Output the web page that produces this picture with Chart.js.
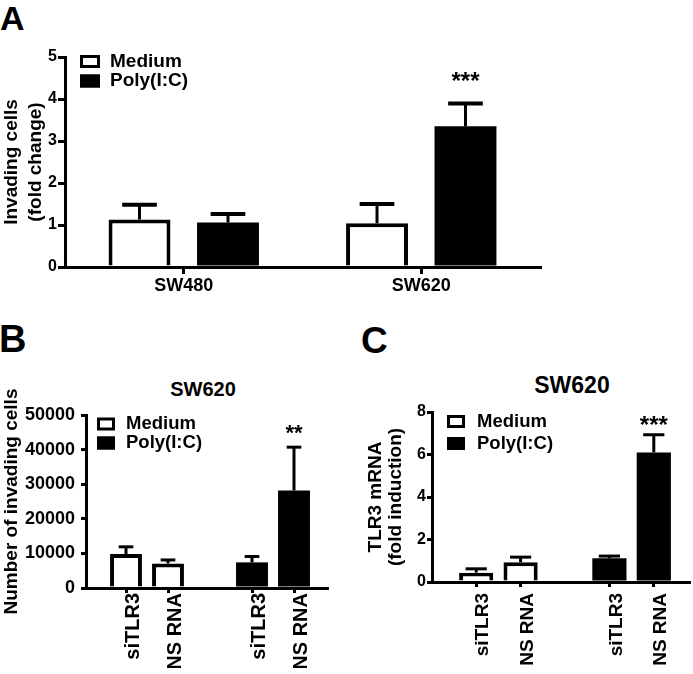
<!DOCTYPE html>
<html><head><meta charset="utf-8">
<script src="https://cdn.jsdelivr.net/npm/chart.js@4.4.1/dist/chart.umd.min.js"></script>
<style>
html,body{margin:0;padding:0;background:#fff;}
body{width:693px;height:674px;position:relative;overflow:hidden;font-family:'Liberation Sans',Arial,Helvetica,sans-serif;font-weight:bold;color:#000;}
canvas{position:absolute;}
.t{position:absolute;line-height:1;white-space:nowrap;}
</style></head><body>
<div class="t" style="left:0;top:1px;font-size:34px">A</div>
<div class="t" style="left:-1px;top:320px;font-size:38px">B</div>
<div class="t" style="left:361px;top:322px;font-size:37px">C</div>
<div class="t" style="left:103px;width:200px;text-align:center;top:379px;font-size:20px">SW620</div>
<div class="t" style="left:472px;width:200px;text-align:center;top:374px;font-size:23px">SW620</div>
<canvas id="cA" width="693" height="320" style="left:0;top:0"></canvas>
<canvas id="cB" width="346" height="314" style="left:0;top:360px"></canvas>
<canvas id="cC" width="347" height="314" style="left:346px;top:360px"></canvas>
<script>
// ---------------- data ----------------
const legendLabels = ['Medium', 'Poly(I:C)'];

// Panel A
const groupsA = ['SW480', 'SW620'];
const mediumA = [1.13, 1.04];
const mediumErrA = [0.35, 0.46];
const polyA = [1.06, 3.35];
const polyErrA = [0.20, 0.54];
const starsA = ['', '***'];

// Panel B
const treatments = ['siTLR3', 'NS RNA'];
const mediumB = [9800, 7100];
const mediumErrB = [2100, 1000];
const polyB = [7400, 28200];
const polyErrB = [1700, 12500];
const starsB = ['', '**'];

// Panel C
const mediumC = [0.44, 0.93];
const mediumErrC = [0.18, 0.24];
const polyC = [1.12, 6.1];
const polyErrC = [0.10, 0.83];
const starsC = ['', '***'];

// ---------------- helpers ----------------
const FF = "'Liberation Sans', Arial, Helvetica, sans-serif";

const errorBars = {
  id: 'errorBars',
  afterDatasetsDraw(chart, args, o) {
    const ctx = chart.ctx, y = chart.scales.y;
    ctx.save();
    ctx.strokeStyle = '#000'; ctx.fillStyle = '#000'; ctx.lineCap = 'butt';
    chart.data.datasets.forEach((ds, di) => {
      const meta = chart.getDatasetMeta(di);
      meta.data.forEach((bar, i) => {
        const v = ds.data[i], e = ds.errors ? ds.errors[i] : null;
        if (v == null || e == null) return;
        const top = y.getPixelForValue(v + e);
        const base = y.getPixelForValue(v);
        const w = bar.width * o.cap;
        ctx.lineWidth = o.stem;
        ctx.beginPath(); ctx.moveTo(bar.x, base); ctx.lineTo(bar.x, top); ctx.stroke();
        ctx.lineWidth = o.capWidth;
        ctx.beginPath(); ctx.moveTo(bar.x - w / 2, top); ctx.lineTo(bar.x + w / 2, top); ctx.stroke();
        const s = ds.stars ? ds.stars[i] : '';
        if (s) {
          ctx.font = 'bold ' + o.starSize + 'px ' + FF;
          ctx.textAlign = 'center'; ctx.textBaseline = 'middle';
          ctx.fillText(s, bar.x, top - o.starGap + 0.23 * o.starSize);
        }
      });
    });
    ctx.restore();
  }
};

const boxLegend = {
  id: 'boxLegend',
  afterDraw(chart, args, o) {
    const ctx = chart.ctx, a = chart.chartArea;
    ctx.save();
    ctx.font = 'bold ' + o.size + 'px ' + FF;
    ctx.textBaseline = 'middle'; ctx.textAlign = 'left';
    chart.data.datasets.forEach((ds, i) => {
      const cy = a.top + o.dy + i * o.gap;
      const x = a.left + o.dx;
      ctx.fillStyle = ds.backgroundColor;
      ctx.fillRect(x, cy - o.h / 2, o.w, o.h);
      ctx.lineWidth = o.lw; ctx.strokeStyle = ds.borderColor;
      ctx.strokeRect(x + o.lw / 2, cy - o.h / 2 + o.lw / 2, o.w - o.lw, o.h - o.lw);
      ctx.fillStyle = '#000';
      ctx.fillText(ds.label, a.left + o.tx, cy);
    });
    ctx.restore();
  }
};

// narrows the category domain inside the drawn x axis line
const xInset = {
  id: 'xInset',
  afterLayout(chart, args, o) {
    if (!o || (!o.left && !o.right)) return;
    const s = chart.scales.x;
    s._startPixel = s.left + o.left;
    s._endPixel = s.right - o.right;
    s._length = s._endPixel - s._startPixel;
  }
};

function build(id, o) {
  const tickColor = (c) => (c.tick && c.tick.label !== '' ? '#000' : 'rgba(0,0,0,0)');
  return new Chart(document.getElementById(id), {
    type: 'bar',
    data: {
      labels: o.labels,
      datasets: [
        { label: legendLabels[0], data: o.med, errors: o.medErr, stars: o.medStars,
          backgroundColor: '#ffffff', borderColor: '#000000', borderWidth: 4, borderSkipped: 'start',
          skipNull: true, categoryPercentage: o.cp, barPercentage: o.bp },
        { label: legendLabels[1], data: o.poly, errors: o.polyErr, stars: o.polyStars,
          backgroundColor: '#000000', borderColor: '#000000', borderWidth: 0,
          skipNull: true, categoryPercentage: o.cp, barPercentage: o.bp }
      ]
    },
    options: {
      responsive: false, animation: false, devicePixelRatio: 1, events: [],
      layout: { padding: o.pad, autoPadding: false },
      plugins: {
        legend: { display: false }, tooltip: { enabled: false },
        boxLegend: o.legend, errorBars: o.err, xInset: o.inset || {}
      },
      scales: {
        x: {
          grid: { display: true, drawOnChartArea: false, drawTicks: true, tickLength: o.xTick,
                  color: tickColor, lineWidth: 3, offset: false },
          border: { display: true, color: '#000', width: 3 },
          ticks: { color: '#000', autoSkip: false, padding: o.xPad, minRotation: o.rot, maxRotation: o.rot,
                   labelOffset: o.xShift || 0,
                   font: { family: FF, size: o.xSize, weight: 'bold' } },
          afterFit: (s) => { s.height = o.xh; }
        },
        y: {
          min: 0, max: o.ymax,
          grid: { display: true, drawOnChartArea: false, drawTicks: true, tickLength: o.yTick,
                  color: '#000', lineWidth: 3 },
          border: { display: true, color: '#000', width: 3 },
          ticks: { color: '#000', stepSize: o.step, padding: o.yPad,
                   font: { family: FF, size: o.ySize, weight: 'bold' },
                   callback: (v) => String(v) },
          title: { display: true, text: o.title, color: '#000', padding: { top: o.tPad, bottom: 0 },
                   font: { family: FF, size: o.tSize, weight: 'bold', lineHeight: o.tLH } },
          afterFit: (s) => { s.width = o.yw; }
        }
      }
    },
    plugins: [xInset, errorBars, boxLegend]
  });
}

// Panel A
build('cA', {
  labels: groupsA, med: mediumA, medErr: mediumErrA, medStars: null,
  poly: polyA, polyErr: polyErrA, polyStars: starsA,
  cp: 0.745, bp: 0.70,
  pad: { left: 0, top: 57, right: 153, bottom: 13 }, xh: 40, yw: 65,
  ymax: 5, step: 1, yTick: 7, yPad: 1, ySize: 16,
  xTick: 7, xPad: 1, xSize: 18, rot: 0,
  title: ['Invading cells', '(fold change)'], tSize: 19, tLH: 1.24, tPad: 0,
  legend: { dx: 15, dy: 4.5, gap: 19.5, w: 20, h: 13, lw: 3, tx: 45, size: 19 },
  err: { cap: 0.56, stem: 3, capWidth: 4, starSize: 24, starGap: 26.5 }
});

// Panel B
build('cB', {
  labels: [...treatments, '', ...treatments],
  med: [...mediumB, null, null, null], medErr: [...mediumErrB, null, null, null], medStars: null,
  poly: [null, null, null, ...polyB], polyErr: [null, null, null, ...polyErrB], polyStars: [null, null, null, ...starsB],
  cp: 1, bp: 0.76,
  pad: { left: 0, top: 55, right: 19, bottom: 6 }, xh: 80, yw: 86,
  ymax: 50000, step: 10000, yTick: 5, yPad: 6, ySize: 18,
  xTick: 5, xPad: 0, xSize: 20, rot: 90, xShift: 7,
  title: 'Number of invading cells', tSize: 19, tLH: 1.2, tPad: 0,
  legend: { dx: 11, dy: 9, gap: 19, w: 18, h: 13, lw: 3, tx: 40, size: 18.5 },
  err: { cap: 0.46, stem: 3, capWidth: 3, starSize: 22, starGap: 18.5 },
  inset: { left: 19, right: 12 }
});

// Panel C
build('cC', {
  labels: [...treatments, '', ...treatments],
  med: [...mediumC, null, null, null], medErr: [...mediumErrC, null, null, null], medStars: null,
  poly: [null, null, null, ...polyC], polyErr: [null, null, null, ...polyErrC], polyStars: [null, null, null, ...starsC],
  cp: 1, bp: 0.77,
  pad: { left: 0, top: 52, right: 4, bottom: 6 }, xh: 86, yw: 86,
  ymax: 8, step: 2, yTick: 5, yPad: 1, ySize: 16,
  xTick: 5, xPad: 6, xSize: 19, rot: 90, xShift: 7,
  title: ['TLR3 mRNA', '(fold induction)'], tSize: 19, tLH: 1.05, tPad: 20,
  legend: { dx: 15, dy: 9.5, gap: 22, w: 18, h: 13, lw: 3, tx: 45, size: 18.5 },
  err: { cap: 0.62, stem: 3, capWidth: 3, starSize: 24, starGap: 13.5 },
  inset: { left: 22, right: 13 }
});
</script>
</body></html>
